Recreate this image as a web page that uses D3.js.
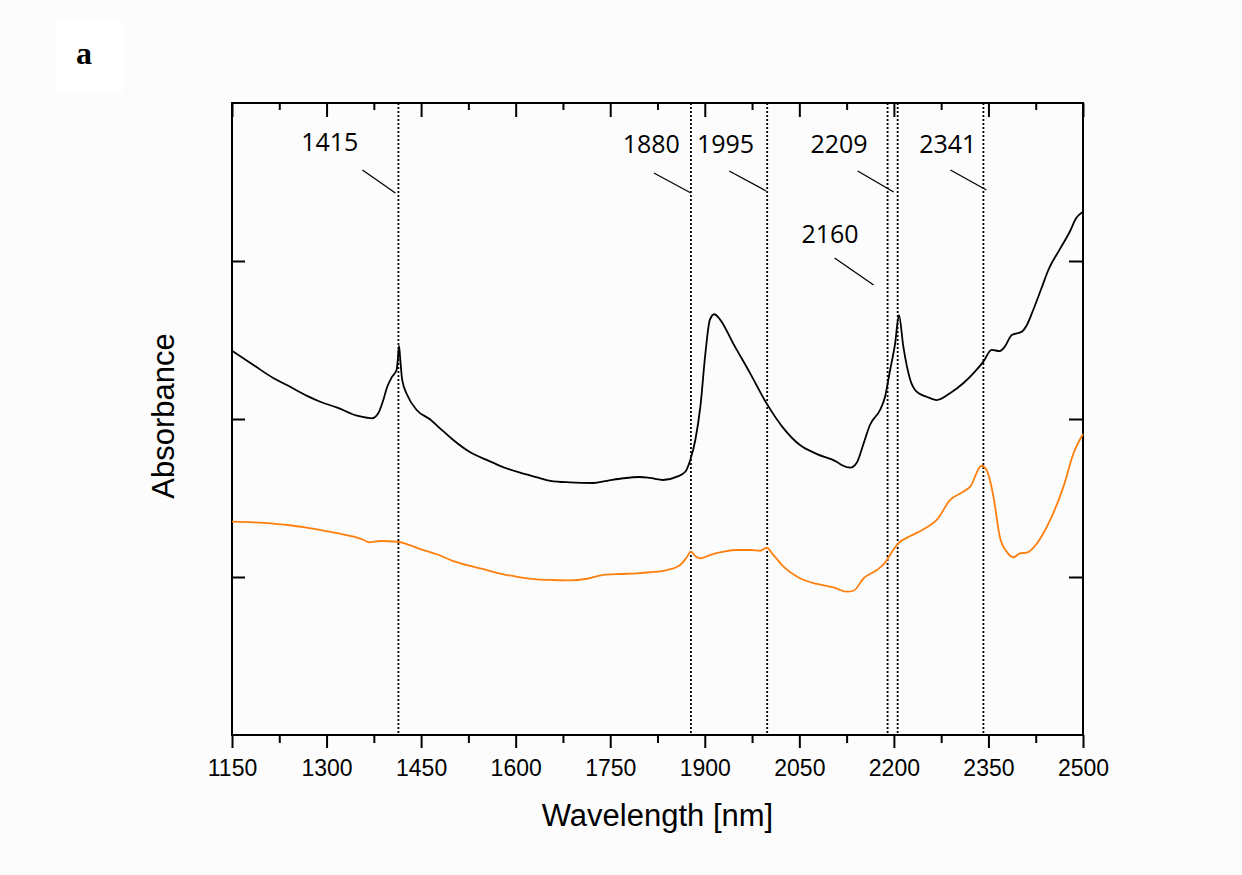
<!DOCTYPE html>
<html><head>
<meta charset="utf-8">
<script src="https://d3js.org/d3.v7.min.js"></script>
<style>
  body { margin: 0; background: #fcfcfc; }
  svg { display: block; }
</style>
</head>
<body>
<svg id="chart" width="1242" height="875"></svg>
<script>
// black spectrum (wavelength nm, absorbance a.u.)
const blackWl = [1150,1184,1216,1237,1269,1290,1317,1348,1364,1372,1382,1390,1396,1404,1411,1413,1415,1417,1420,1428,1443,1464,1480,1501,1528,1554,1581,1607,1634,1655,1686,1723,1745,1771,1797,1813,1834,1856,1869,1877,1885,1893,1901,1908,1915,1924,1945,1972,1998,2025,2051,2078,2109,2117,2131,2141,2152,2162,2178,2186,2194,2202,2208,2215,2226,2236,2252,2268,2289,2310,2326,2342,2355,2368,2376,2387,2403,2411,2421,2435,2445,2464,2479,2489,2500];
const blackAbs = [2.432,2.342,2.258,2.215,2.146,2.109,2.072,2.021,2.008,2.004,2.036,2.120,2.201,2.268,2.310,2.373,2.462,2.373,2.247,2.152,2.057,1.998,1.941,1.867,1.789,1.741,1.694,1.660,1.631,1.609,1.599,1.595,1.609,1.625,1.633,1.627,1.614,1.635,1.666,1.741,1.867,2.078,2.416,2.627,2.663,2.631,2.479,2.289,2.099,1.941,1.835,1.778,1.730,1.709,1.692,1.723,1.846,1.962,2.057,2.141,2.310,2.479,2.658,2.458,2.247,2.173,2.141,2.120,2.163,2.226,2.289,2.363,2.437,2.430,2.458,2.532,2.553,2.595,2.690,2.837,2.943,3.080,3.185,3.270,3.312];

// orange spectrum
const orangeWl = [1150,1184,1211,1237,1264,1290,1317,1343,1359,1367,1385,1412,1428,1449,1475,1501,1528,1554,1581,1607,1634,1660,1686,1713,1739,1766,1792,1813,1840,1861,1872,1878,1885,1893,1908,1930,1951,1972,1988,1998,2009,2025,2051,2078,2104,2125,2136,2152,2173,2186,2197,2207,2226,2247,2268,2289,2310,2321,2339,2347,2358,2368,2379,2390,2400,2411,2427,2448,2469,2485,2500];
const orangeAbs = [1.350,1.346,1.340,1.329,1.315,1.297,1.277,1.255,1.234,1.220,1.228,1.223,1.207,1.177,1.144,1.101,1.070,1.044,1.017,0.998,0.985,0.981,0.979,0.989,1.013,1.019,1.023,1.030,1.044,1.076,1.128,1.160,1.133,1.118,1.139,1.160,1.171,1.171,1.166,1.185,1.139,1.065,0.992,0.956,0.935,0.907,0.913,0.992,1.044,1.091,1.160,1.213,1.259,1.302,1.361,1.487,1.540,1.572,1.704,1.677,1.508,1.255,1.160,1.125,1.150,1.154,1.213,1.361,1.572,1.783,1.905];

// marked bands: label text and where the dotted line sits
const bandLabels = ["1415","1880","1995","2160","2209","2341"];
const bandPos = [1414,1878,1999,2190,2206,2342];

const xMajor = [1150,1300,1450,1600,1750,1900,2050,2200,2350,2500];
const xMinor = [1225,1375,1525,1675,1825,1975,2125,2275,2425];
const yTicks = [1,2,3];

const svg = d3.select("#chart");
const margin = {left: 232, right: 159, top: 103, bottom: 140};
const W = 1242, H = 875;
const x0 = margin.left, x1 = W - margin.right, y0 = margin.top, y1 = H - margin.bottom;

const x = d3.scaleLinear().domain([1150, 2500]).range([x0, x1]);
const y = d3.scaleLinear().domain([0, 4]).range([y1, y0]);

// panel letter
svg.append("rect").attr("x", 55).attr("y", 22).attr("width", 68).attr("height", 70).attr("fill", "#fff");
svg.append("text").attr("x", 84).attr("y", 64).attr("text-anchor", "middle")
  .style("font-family", "'Liberation Serif', serif").style("font-weight", "bold").style("font-size", "32px")
  .text("a");

// bottom axis
const gB = svg.append("g").attr("transform", `translate(0,${y1})`)
  .call(d3.axisBottom(x).tickValues(xMajor).tickSize(13).tickPadding(12).tickFormat(d3.format("d")));
svg.append("g").attr("transform", `translate(0,${y1})`)
  .call(d3.axisBottom(x).tickValues(xMinor).tickSize(8).tickFormat(""));
// top axis, ticks inward
svg.append("g").attr("transform", `translate(0,${y0})`)
  .call(d3.axisTop(x).tickValues(xMajor).tickSize(-14).tickFormat(""));
svg.append("g").attr("transform", `translate(0,${y0})`)
  .call(d3.axisTop(x).tickValues(xMinor).tickSize(-7).tickFormat(""));
// left / right, ticks inward
svg.append("g").attr("transform", `translate(${x0},0)`)
  .call(d3.axisLeft(y).tickValues(yTicks).tickSize(-13).tickFormat(""));
svg.append("g").attr("transform", `translate(${x1},0)`)
  .call(d3.axisRight(y).tickValues(yTicks).tickSize(-14).tickFormat(""));

svg.selectAll(".domain").remove();
svg.selectAll(".tick line").attr("stroke", "#000").attr("stroke-width", 2);
gB.selectAll("text").style("font-family", "'Liberation Sans', Arial, sans-serif").style("font-size", "23px").attr("fill", "#000");

// frame
svg.append("rect").attr("x", x0).attr("y", y0).attr("width", x1 - x0).attr("height", y1 - y0)
  .attr("fill", "none").attr("stroke", "#000").attr("stroke-width", 2);

// dotted band lines
svg.selectAll("line.band").data(bandPos).join("line").attr("class", "band")
  .attr("x1", d => x(d)).attr("x2", d => x(d))
  .attr("y1", y0).attr("y2", y1)
  .attr("stroke", "#000").attr("stroke-width", 1.8).attr("stroke-dasharray", "2,2");

// label layout: text end offset, baseline, leader offsets (relative to band line)
const labLayout = [
  {tx: -40, ty: 151, lx1: -36, ly1: 170, lx2: -3, ly2: 193},
  {tx: -11, ty: 153, lx1: -37, ly1: 173, lx2: 0, ly2: 193},
  {tx: -13, ty: 153, lx1: -38, ly1: 171, lx2: -1, ly2: 191},
  {tx: -29, ty: 243, lx1: -53, ly1: 258, lx2: -14, ly2: 285},
  {tx: -30, ty: 153, lx1: -40, ly1: 171, lx2: -4, ly2: 192},
  {tx: -7, ty: 153, lx1: -33, ly1: 170, lx2: 3, ly2: 190}
];
bandLabels.forEach((lab, i) => {
  const bx = x(bandPos[i]), L = labLayout[i];
  svg.append("text").attr("x", bx + L.tx).attr("y", L.ty).attr("text-anchor", "end")
    .style("font-family", "'Open Sans', sans-serif").style("font-size", "25px").attr("fill", "#000")
    .text(lab);
  svg.append("line").attr("x1", bx + L.lx1).attr("y1", L.ly1).attr("x2", bx + L.lx2).attr("y2", L.ly2)
    .attr("stroke", "#000").attr("stroke-width", 1.3);
});

// spectra
const line = d3.line().x(d => x(d[0])).y(d => y(d[1])).curve(d3.curveMonotoneX);
svg.append("path").datum(orangeWl.map((w, i) => [w, orangeAbs[i]]))
  .attr("d", line).attr("fill", "none").attr("stroke", "#ff7f0e").attr("stroke-width", 1.8);
svg.append("path").datum(blackWl.map((w, i) => [w, blackAbs[i]]))
  .attr("d", line).attr("fill", "none").attr("stroke", "#000").attr("stroke-width", 1.8);

// axis titles
svg.append("text").attr("x", (x0 + x1) / 2).attr("y", 826).attr("text-anchor", "middle")
  .style("font-family", "'Liberation Sans', Arial, sans-serif").style("font-size", "31px")
  .text("Wavelength [nm]");
svg.append("text").attr("transform", `translate(174,${(y0 + y1) / 2 - 3}) rotate(-90)`).attr("text-anchor", "middle")
  .style("font-family", "'Liberation Sans', Arial, sans-serif").style("font-size", "31px")
  .text("Absorbance");
</script>
</body>
</html>
